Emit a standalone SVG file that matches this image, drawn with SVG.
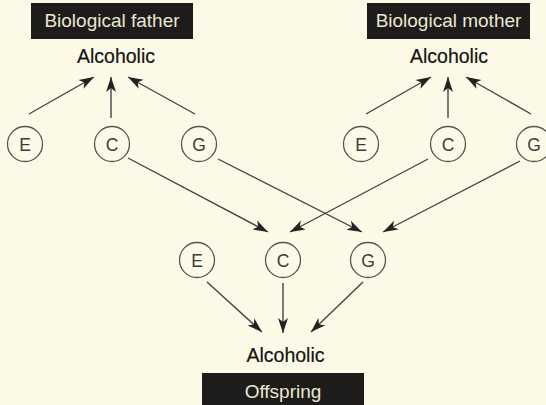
<svg xmlns="http://www.w3.org/2000/svg" width="546" height="405" viewBox="0 0 546 405">
<style>
.lbl{font-family:"Liberation Sans",Arial,sans-serif;font-size:19px;fill:#ebe7d2;text-anchor:middle}
.alc{font-family:"Liberation Sans",Arial,sans-serif;font-size:19.5px;fill:#141414;text-anchor:middle;stroke:#141414;stroke-width:0.2}
.box{fill:#1e1c1a}
.nd circle{fill:none;stroke:#555;stroke-width:1.3}
.nd text{font-family:"Liberation Sans",Arial,sans-serif;font-size:17.5px;fill:#3c3c3c;text-anchor:middle}
.cn line{stroke:#444;stroke-width:1.4;marker-end:url(#ah)}
</style>
<defs>
<marker id="ah" markerUnits="userSpaceOnUse" markerWidth="16" markerHeight="12" refX="15" refY="6" orient="auto">
<path d="M0,1 L15,6 L0,11 L4,6 z" fill="#222"/>
</marker>
</defs>
<rect width="546" height="405" fill="#fcfae7"/>
<g id="father">
<rect class="box" x="31" y="3" width="162" height="36"/>
<text class="lbl" x="112" y="27">Biological father</text>
<text class="alc" x="116" y="63">Alcoholic</text>
</g>
<g id="mother">
<rect class="box" x="367" y="3" width="163" height="36"/>
<text class="lbl" x="448.5" y="27">Biological mother</text>
<text class="alc" x="449" y="63">Alcoholic</text>
</g>
<g id="offspring">
<text class="alc" x="285.5" y="362">Alcoholic</text>
<rect class="box" x="202" y="373" width="162" height="34"/>
<text class="lbl" x="283" y="398">Offspring</text>
</g>
<g id="fE" class="nd"><circle cx="25" cy="144" r="17.5"/><text x="25" y="150.5">E</text></g>
<g id="fC" class="nd"><circle cx="112" cy="144" r="17.5"/><text x="112" y="150.5">C</text></g>
<g id="fG" class="nd"><circle cx="199" cy="144" r="17.5"/><text x="199" y="150.5">G</text></g>
<g id="mE" class="nd"><circle cx="361" cy="144" r="17.5"/><text x="361" y="150.5">E</text></g>
<g id="mC" class="nd"><circle cx="448" cy="144" r="17.5"/><text x="448" y="150.5">C</text></g>
<g id="mG" class="nd"><circle cx="534" cy="144" r="17.5"/><text x="534" y="150.5">G</text></g>
<g id="oE" class="nd"><circle cx="197" cy="260" r="17.5"/><text x="197" y="266.5">E</text></g>
<g id="oC" class="nd"><circle cx="283" cy="260" r="17.5"/><text x="283" y="266.5">C</text></g>
<g id="oG" class="nd"><circle cx="368" cy="260" r="17.5"/><text x="368" y="266.5">G</text></g>
<g id="connectors" class="cn">
<line x1="29" y1="114" x2="94" y2="77"/>
<line x1="111" y1="118" x2="111" y2="77"/>
<line x1="195" y1="114" x2="128" y2="77"/>
<line x1="366" y1="114" x2="431" y2="77"/>
<line x1="448" y1="118" x2="448" y2="77"/>
<line x1="531" y1="114" x2="466" y2="77"/>
<line x1="128" y1="158" x2="268" y2="232"/>
<line x1="218" y1="159" x2="362" y2="232"/>
<line x1="428" y1="159" x2="290" y2="232"/>
<line x1="520" y1="161" x2="383" y2="232"/>
<line x1="207" y1="282" x2="262" y2="332"/>
<line x1="283" y1="283" x2="283" y2="333"/>
<line x1="363" y1="282" x2="311" y2="332"/>
</g>
</svg>
